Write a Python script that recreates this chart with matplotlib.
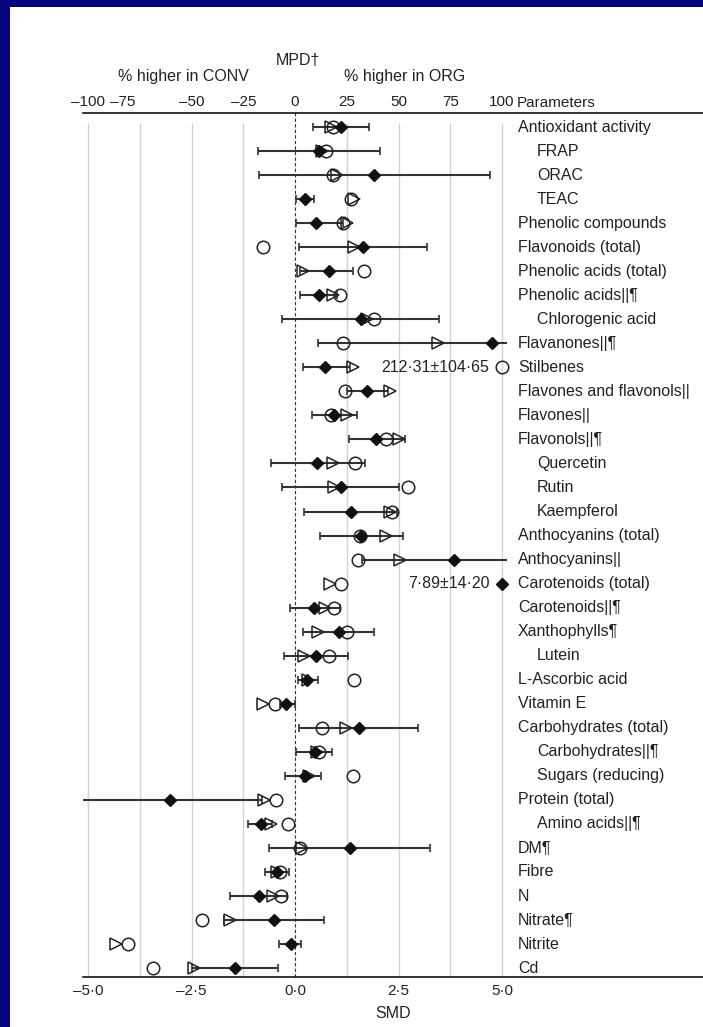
import numpy as np
import matplotlib.pyplot as plt
from matplotlib.patches import Rectangle

plt.rcParams['font.family'] = ['Liberation Sans', 'DejaVu Sans']
plt.rcParams['font.size'] = 11.5

# parameters (top to bottom) and whether the label is indented
params = ["Antioxidant activity", "FRAP", "ORAC", "TEAC", "Phenolic compounds",
          "Flavonoids (total)", "Phenolic acids (total)", "Phenolic acids||¶",
          "Chlorogenic acid", "Flavanones||¶", "Stilbenes", "Flavones and flavonols||",
          "Flavones||", "Flavonols||¶", "Quercetin", "Rutin", "Kaempferol",
          "Anthocyanins (total)", "Anthocyanins||", "Carotenoids (total)",
          "Carotenoids||¶", "Xanthophylls¶", "Lutein", "L-Ascorbic acid", "Vitamin E",
          "Carbohydrates (total)", "Carbohydrates||¶", "Sugars (reducing)",
          "Protein (total)", "Amino acids||¶", "DM¶", "Fibre", "N", "Nitrate¶",
          "Nitrite", "Cd"]
indented = ["FRAP", "ORAC", "TEAC", "Chlorogenic acid", "Quercetin", "Rutin",
            "Kaempferol", "Lutein", "Carbohydrates||¶", "Sugars (reducing)",
            "Amino acids||¶"]

# MPD (%), open circles
circle_mpd = [18.5, 14.8, 18.2, 26.9, 23.1, -15.6, 33.4, 21.5, 38.4, 23.4,
              212.31, 24.2, 17.3, 44.0, 29.0, 54.5, 46.8, 31.5, 30.6, 22.3,
              18.9, 25.0, 16.6, 28.7, -9.7, 12.9, 11.6, 28.2,
              -9.2, -3.2, 2.4, -7.2, -6.9, -45.0, -80.9, -68.6]
# MPD (%), open triangles
triangle_mpd = [17.3, 12.9, 20.5, 28.5, 25.3, 28.5, 4.0, 18.5, 34.7, 69.0,
                27.9, 46.0, 25.0, 50.0, 18.2, 18.9, 46.0, 44.0, 50.8, 16.9,
                14.5, 11.3, 4.5, 6.5, -15.6, 24.7, 10.5, 6.9,
                -15.0, -11.6, 3.5, -8.5, -10.5, -31.4, -86.3, -48.7]
# SMD, filled diamonds, with 95% CI
diamond_smd = [1.11, 0.59, 1.92, 0.24, 0.51, 1.64, 0.81, 0.59, 1.60, 4.77,
               0.73, 1.73, 0.93, 1.96, 0.52, 1.11, 1.35, 1.60, 3.83, 7.89,
               0.47, 1.06, 0.51, 0.30, -0.22, 1.55, 0.48, 0.23,
               -3.01, -0.82, 1.33, -0.44, -0.87, -0.50, -0.10, -1.45]
ci_low = [0.44, -0.89, -0.86, 0.02, 0.02, 0.10, 0.12, 0.12, -0.31, 0.56,
          0.20, 1.25, 0.40, 1.31, -0.58, -0.31, 0.22, 0.60, 1.61, np.nan,
          -0.12, 0.19, -0.27, 0.08, -0.36, 0.10, 0.02, -0.23,
          -5.12, -1.13, -0.62, -0.72, -1.57, -1.71, -0.38, -2.49]
ci_high = [1.79, 2.06, 4.70, 0.46, 1.17, 3.19, 1.41, 1.01, 3.47, 5.12,
           1.33, 2.25, 1.49, 2.66, 1.69, 2.52, 2.46, 2.60, 5.12, np.nan,
           1.09, 1.91, 1.27, 0.56, 0.00, 2.98, 0.90, 0.63,
           -0.80, -0.56, 3.26, -0.14, -0.20, 0.70, 0.14, -0.40]
# off-scale values shown as text
stilbenes_sd = 104.65
carotenoids_sd = 14.20

mpd_ticks = [-100, -75, -50, -25, 0, 25, 50, 75, 100]
smd_ticks = [-5.0, -2.5, 0.0, 2.5, 5.0]

ink = '#222222'
tick_fs = 11
y = np.arange(len(params))

fig = plt.figure(figsize=(7.03, 10.27), dpi=100)
fig.patch.set_facecolor('#04047c')
fig.add_artist(Rectangle((10 / 703, 0), 1, 1 - 7 / 1027, transform=fig.transFigure,
                         facecolor='white', edgecolor='none', zorder=-1))

ax = fig.add_axes([83 / 703, 50 / 1027, 620 / 703, 864 / 1027])
ax.set_xlim(-5.121, 9.855)
ax.set_ylim(35.37, -0.583)

# grid and zero line
grid_x = [t / 20 for t in mpd_ticks if t != 0]
ax.vlines(grid_x, -0.15, 35.37, colors='#d2d2d2', lw=1, zorder=1)
ax.axvline(0, color='#333333', ls=(0, (3, 2)), lw=0.8, zorder=1)

# CI bars
lo = np.array(ci_low)
hi = np.array(ci_high)
ax.hlines(y, lo, hi, color='#333333', lw=1.5, zorder=2)
for arr in (lo, hi):
    m = np.abs(arr) < 5.1
    ax.plot(arr[m], y[m], '|', ms=6, mew=1.2, color='#333333', zorder=2)

# markers
circ = np.clip(circle_mpd, -100, 100) / 20
tri = np.clip(triangle_mpd, -100, 100) / 20
dia = np.clip(diamond_smd, -5, 5)
ax.plot(circ, y, 'o', ls='none', ms=9, mfc='none', mec=ink, mew=1.1, zorder=3)
ax.plot(tri, y, '>', ls='none', ms=8.5, mfc='none', mec=ink, mew=1.1, zorder=4)
ax.plot(dia, y, 'D', ls='none', ms=6.3, color='#111111', zorder=5)

i_st = params.index("Stilbenes")
ax.annotate(f"{circle_mpd[i_st]:.2f}±{stilbenes_sd:.2f}".replace('.', '·'),
            (circ[i_st], i_st), xytext=(-9, 0), textcoords='offset points',
            ha='right', va='center', color=ink)
i_ca = params.index("Carotenoids (total)")
ax.annotate(f"{diamond_smd[i_ca]:.2f}±{carotenoids_sd:.2f}".replace('.', '·'),
            (dia[i_ca], i_ca), xytext=(-9, 0), textcoords='offset points',
            ha='right', va='center', color=ink)

# parameter labels
tr = ax.get_yaxis_transform()
for i, p in enumerate(params):
    x0 = 0.7323 if p in indented else 0.7016
    ax.text(x0, i, p, transform=tr, ha='left', va='center', color=ink)
ax.text(0.7, 1.0116, "Parameters", transform=ax.transAxes, ha='left',
        va='center', color=ink, fontsize=tick_fs)

# axes
for s in ('left', 'right'):
    ax.spines[s].set_visible(False)
for s in ('top', 'bottom'):
    ax.spines[s].set_linewidth(1.2)
    ax.spines[s].set_color('#111111')
ax.set_yticks([])
ax.set_xticks(smd_ticks)
ax.set_xticklabels([f"{t:.1f}".replace('-', '–').replace('.', '·') for t in smd_ticks])
ax.tick_params(axis='x', length=0, pad=5, colors=ink, labelsize=tick_fs)
ax.set_xlabel("SMD", color=ink, labelpad=6)

top = ax.secondary_xaxis('top', functions=(lambda s: s * 20, lambda m: m / 20))
top.set_xticks(mpd_ticks)
# the "-75" label sits left of its gridline in the original, drawn separately
top.set_xticklabels(['' if t == -75 else str(t).replace('-', '–') for t in mpd_ticks])
top.tick_params(length=0, pad=3, colors=ink, labelsize=tick_fs)
top.spines['top'].set_visible(False)
fig.text(123 / 703, 1 - 108.8 / 1027, "–75", ha='center', va='bottom', color=ink,
         fontsize=tick_fs)

# header
fig.text(298 / 703, 1 - 60 / 1027, "MPD†", ha='center', va='center', color=ink)
fig.text(183 / 703, 1 - 77 / 1027, "% higher in CONV", ha='center', va='center', color=ink)
fig.text(405 / 703, 1 - 77 / 1027, "% higher in ORG", ha='center', va='center', color=ink)

fig.savefig('out.png', dpi=100)
